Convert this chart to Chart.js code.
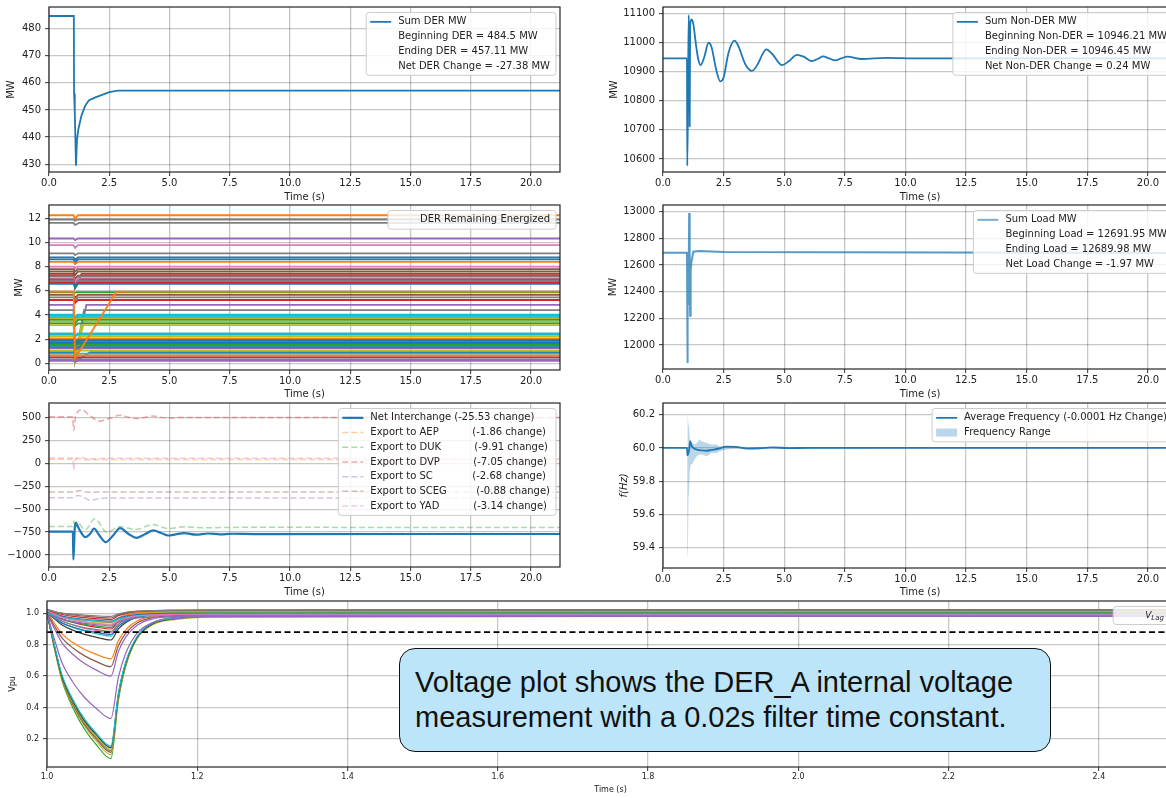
<!DOCTYPE html>
<html>
<head>
<meta charset="utf-8">
<script src="https://cdn.jsdelivr.net/npm/chart.js@4.4.1/dist/chart.umd.min.js"></script>
<style>
  html, body { margin: 0; padding: 0; background: #fff; overflow: hidden; width: 1166px; height: 798px; }
  canvas { position: absolute; }
  #note {
    position: absolute; left: 399px; top: 648px; width: 652px; height: 104px;
    box-sizing: border-box; background: #bde5f9; border: 1.5px solid #111; border-radius: 16px;
    display: flex; align-items: center; padding-left: 15px;
    font-family: 'Liberation Sans', Arial, sans-serif; font-size: 29px; line-height: 35px; color: #111;
  }
</style>
</head>
<body>
<canvas id="derChart"></canvas>
<canvas id="nonDerChart"></canvas>
<canvas id="energizedChart"></canvas>
<canvas id="loadChart"></canvas>
<canvas id="interchangeChart"></canvas>
<canvas id="freqChart"></canvas>
<canvas id="voltageChart"></canvas>
<div id="note"><div>Voltage plot shows the DER_A internal voltage<br>measurement with a 0.02s filter time constant.</div></div>
<script>
// ---- data ----
const T_END = 21.2;
const timeTicks = [0, 2.5, 5, 7.5, 10, 12.5, 15, 17.5, 20];

// sum DER MW
const derT = [0, 1.03, 1.04, 1.07, 1.12, 1.16, 1.22, 1.35, 1.5, 1.65, 1.9, 2.2, 2.5, 2.85, 21.2];
const derV = [484.5, 484.5, 456, 449, 429.5, 439, 443, 448, 451.5, 453.5, 454.5, 455.5, 456.5, 457.1, 457.11];
const derTicks = [430, 440, 450, 460, 470, 480];

// sum non-DER MW
const nonDerT = [0, 0.99, 1.0, 1.03, 1.06, 1.08, 1.1, 1.12, 1.17, 1.25, 1.35, 1.45, 1.55, 1.7, 1.88, 2.0, 2.2, 2.36, 2.5, 2.7,
                 2.95, 3.1, 3.4, 3.67, 3.9, 4.1, 4.26, 4.5, 4.9, 5.2, 5.52, 5.8, 6.14, 6.4, 6.6, 6.85, 7.1, 7.35, 7.6, 8.2, 9.2, 10.5, 21.2];
const nonDerV = [10946.21, 10946.21, 10576, 10800, 11095, 11000, 10712, 11060, 11080, 11065, 11000, 10945, 10923, 10950, 11000, 10985, 10905, 10867, 10880, 10965,
                 11007, 10990, 10925, 10903, 10925, 10960, 10977, 10962, 10923, 10937, 10958, 10952, 10937, 10945, 10953, 10946, 10939, 10946, 10952, 10944, 10948, 10946, 10946.45];
const nonDerTicks = [10600, 10700, 10800, 10900, 11000, 11100];

// DER remaining energized (one line per unit)
const T_FAULT = 1.02, T_TRIP = 1.08;
const derLevels  = [12.25, 11.9, 11.62, 10.33, 9.78, 9.1, 8.77, 8.6, 8.4, 8.0, 7.8, 7.6, 7.4, 7.25, 7.17, 7.0, 6.95, 6.85, 6.76, 6.65,
                    6.57, 5.88, 5.66, 5.46, 5.24, 4.83, 4.41, 4.02, 3.95, 3.82, 3.7, 3.6, 3.45, 3.3, 3.17, 2.48, 2.38, 2.26, 2.07, 1.95,
                    1.88, 1.75, 1.66, 1.55, 1.46, 1.35, 1.24, 1.05, 0.9, 0.8, 0.65, 0.5, 0.33, 0.2, 5.93];
const derDips    = [11.95, 11.8, 11.45, 10.2, 9.55, 8.95, 8.55, 8.3, 8.2, 7.85, 7.6, 7.3, 6.3, 7.0, 6.8, 6.8, 6.2, 6.6, 6.5, 6.4,
                    6.3, 5.85, 5.4, 5.2, 5.0, 0.3, 0.3, 3.8, 3.7, 3.6, 3.5, 3.3, 0.3, 3.1, 0.4, 2.3, 2.2, 0.4, 1.9, 1.8,
                    1.7, 1.6, 1.5, 1.4, 0.3, 1.2, 1.1, 0.9, 0.15, 0.65, 0.5, 0.35, 0.25, 0.15, 0.4];
const derRecover = [1.2, 1.2, 1.25, 1.2, 1.2, 1.2, 1.2, 1.2, 1.2, 1.2, 1.2, 1.2, 1.35, 1.2, 1.25, 1.2, 1.3, 1.2, 1.2, 1.2,
                    1.2, 1.15, 1.2, 1.2, 1.2, 1.55, 1.45, 1.2, 1.2, 1.2, 1.2, 1.2, 1.45, 1.2, 1.35, 1.2, 1.2, 1.3, 1.2, 1.2,
                    1.2, 1.2, 1.2, 1.2, 1.3, 1.2, 1.2, 1.2, 1.7, 1.2, 1.2, 1.2, 1.2, 1.2, 2.8];
const derColors  = ['orange', 'gray', 'gray', 'purple', 'pink', 'gray', 'blue', 'blue', 'orange', 'pink', 'brown', 'brown', 'red', 'brown', 'gray', 'pink', 'brown', 'gray', 'purple', 'red',
                    'blue', 'green', 'brown', 'gray', 'red', 'purple', 'gray', 'cyan', 'cyan', 'cyan', 'olive', 'green', 'olive', 'green', 'olive', 'cyan', 'cyan', 'olive', 'orange', 'green',
                    'blue', 'blue', 'blue', 'green', 'green', 'blue', 'purple', 'olive', 'blue', 'cyan', 'orange', 'red', 'gray', 'purple', 'orange'];
const energizedTicks = [0, 2, 4, 6, 8, 10, 12];

// sum load MW
const loadT = [0, 0.99, 1.0, 1.03, 1.05, 1.08, 1.1, 1.12, 1.14, 1.17, 1.25, 1.5, 2.5, 21.2];
const loadV = [12691.95, 12691.95, 11865, 12450, 12300, 12990, 12700, 12220, 12560, 12620, 12700, 12705, 12697, 12689.98];
const loadTicks = [12000, 12200, 12400, 12600, 12800, 13000];

// interchange
const netT = [0, 0.99, 1.01, 1.04, 1.07, 1.12, 1.2, 1.3, 1.5, 1.7, 1.87, 2.1, 2.35, 2.65, 2.95, 3.3, 3.64, 4.0, 4.33, 4.65,
              4.95, 5.25, 5.6, 6.1, 6.6, 7.1, 7.6, 8.5, 21.2];
const netV = [-745, -745, -1050, -900, -700, -650, -690, -740, -805, -770, -713, -790, -860, -790, -706, -770, -812, -770, -732, -760,
              -787, -775, -760, -778, -765, -774, -768, -771, -770.53];
const aepT = [0, 0.99, 1.04, 1.2, 1.5, 2.5, 21.2];
const aepV = [45, 45, 35, 55, 40, 44, 43];
const dukT = [0, 0.99, 1.03, 1.1, 1.15, 1.5, 1.9, 2.4, 2.95, 3.6, 4.3, 4.95, 5.6, 6.5, 8, 21.2];
const dukV = [-690, -690, -630, -700, -640, -725, -605, -750, -690, -722, -668, -712, -692, -702, -698, -700];
const dvpT = [0, 0.97, 1.03, 1.1, 1.36, 1.7, 2.1, 2.5, 2.95, 3.3, 3.64, 4.0, 4.3, 4.6, 4.95, 5.5, 21.2];
const dvpV = [510, 510, 362, 520, 585, 520, 462, 490, 525, 505, 490, 505, 518, 505, 496, 503, 503];
const scT = [0, 1.0, 1.2, 1.4, 1.7, 2.2, 3.0, 21.2];
const scV = [-375, -375, -350, -365, -400, -380, -378, -378];
const scegT = [0, 1.0, 1.3, 1.6, 2.2, 21.2];
const scegV = [-313, -313, -295, -315, -312, -314];
const yadT = [0, 0.99, 1.03, 1.08, 1.3, 1.6, 2.5, 21.2];
const yadV = [58, 58, -75, 40, 70, 50, 56, 55];
const interTicks = [-1000, -750, -500, -250, 0, 250, 500];

// frequency
const freqT = [0, 0.99, 1.01, 1.04, 1.08, 1.12, 1.16, 1.25, 1.4, 1.6, 1.8, 2.0, 2.3, 2.6, 3.0, 3.5, 4.0, 4.5, 5.2, 6.0, 21.2];
const freqAvg = [60.0, 60.0, 59.955, 59.965, 59.99, 60.04, 60.02, 60.0, 59.99, 59.985, 59.983, 59.988, 59.995, 60.008, 60.006, 59.996, 59.998, 60.003, 59.999, 60.0, 59.9999];
const rangeT = [0, 0.99, 1.0, 1.02, 1.03, 1.05, 1.08, 1.1, 1.14, 1.2, 1.3, 1.4, 1.5, 1.6, 1.8, 2.0, 2.2, 2.35, 2.6, 3.0, 21.2];
const rangeHi = [60.0, 60.0, 60.05, 60.22, 60.2, 60.14, 60.12, 60.06, 60.04, 60.03, 60.02, 60.03, 60.05, 60.04, 60.03, 60.02, 60.02, 60.01, 60.01, 60.005, 60.0];
const rangeLo = [60.0, 60.0, 59.5, 59.33, 59.4, 59.7, 59.75, 59.85, 59.9, 59.9, 59.93, 59.95, 59.96, 59.96, 59.95, 59.97, 59.97, 59.98, 59.99, 59.995, 60.0];
const freqTicks = [59.4, 59.6, 59.8, 60.0, 60.2];

// DER_A internal voltage
const vTimes = [1.0, 1.01, 1.02, 1.035, 1.05, 1.065, 1.085, 1.095, 1.105, 1.12, 1.14, 1.17, 1.22, 2.5];
const vCurves = [
  [1.01, 0.776, 0.571, 0.393, 0.262, 0.168, 0.075, 0.445, 0.667, 0.843, 0.935, 0.972, 0.99, 1.0],
  [1.005, 0.779, 0.580, 0.408, 0.281, 0.191, 0.1, 0.458, 0.673, 0.843, 0.932, 0.968, 0.985, 0.995],
  [1.0, 0.779, 0.584, 0.416, 0.292, 0.204, 0.115, 0.465, 0.675, 0.841, 0.929, 0.964, 0.981, 0.99],
  [1.01, 0.789, 0.594, 0.426, 0.302, 0.214, 0.125, 0.475, 0.685, 0.851, 0.939, 0.974, 0.99, 1.0],
  [1.0, 0.784, 0.593, 0.429, 0.308, 0.222, 0.135, 0.475, 0.679, 0.841, 0.926, 0.960, 0.976, 0.985],
  [1.0, 0.786, 0.598, 0.436, 0.316, 0.231, 0.145, 0.483, 0.686, 0.846, 0.931, 0.965, 0.982, 0.99],
  [1.01, 0.796, 0.608, 0.446, 0.326, 0.241, 0.155, 0.491, 0.693, 0.852, 0.936, 0.970, 0.987, 0.995],
  [1.0, 0.833, 0.685, 0.558, 0.464, 0.397, 0.33, 0.592, 0.749, 0.874, 0.939, 0.965, 0.978, 0.985],
  [1.0, 0.9, 0.812, 0.736, 0.68, 0.64, 0.6, 0.756, 0.85, 0.924, 0.963, 0.978, 0.986, 0.99],
  [1.005, 0.919, 0.843, 0.777, 0.729, 0.694, 0.66, 0.794, 0.874, 0.938, 0.972, 0.985, 0.992, 0.995],
  [1.01, 0.935, 0.869, 0.812, 0.77, 0.74, 0.71, 0.826, 0.896, 0.951, 0.980, 0.991, 0.997, 1.0],
  [1.01, 0.965, 0.925, 0.891, 0.866, 0.848, 0.83, 0.9, 0.942, 0.975, 0.993, 1.0, 1.003, 1.005],
  [1.015, 0.975, 0.94, 0.909, 0.887, 0.871, 0.855, 0.917, 0.954, 0.984, 0.999, 1.005, 1.008, 1.01],
  [1.0, 0.966, 0.937, 0.911, 0.892, 0.879, 0.865, 0.917, 0.948, 0.973, 0.986, 0.991, 0.993, 0.995],
  [1.02, 0.984, 0.952, 0.924, 0.904, 0.891, 0.875, 0.931, 0.965, 0.991, 1.005, 1.011, 1.013, 1.015],
  [1.005, 0.975, 0.949, 0.926, 0.909, 0.897, 0.885, 0.931, 0.959, 0.98, 0.992, 0.997, 0.999, 1.0],
  [1.02, 0.99, 0.964, 0.941, 0.924, 0.912, 0.9, 0.948, 0.977, 1.0, 1.012, 1.016, 1.019, 1.02],
  [1.01, 0.985, 0.963, 0.944, 0.93, 0.92, 0.91, 0.948, 0.971, 0.989, 0.998, 1.002, 1.004, 1.005],
  [1.0, 0.98, 0.962, 0.947, 0.936, 0.928, 0.92, 0.944, 0.958, 0.97, 0.976, 0.978, 0.979, 0.98],
  [1.015, 0.994, 0.975, 0.959, 0.947, 0.939, 0.93, 0.962, 0.981, 0.996, 1.004, 1.008, 1.009, 1.01],
  [1.02, 1.0, 0.982, 0.967, 0.956, 0.948, 0.94, 0.97, 0.988, 1.002, 1.01, 1.013, 1.014, 1.015],
  [1.01, 0.995, 0.982, 0.97, 0.962, 0.956, 0.95, 0.97, 0.982, 0.992, 0.997, 0.999, 1.0, 1.0],
  [1.02, 1.005, 0.992, 0.98, 0.972, 0.966, 0.96, 0.984, 0.998, 1.01, 1.016, 1.018, 1.019, 1.02],
  [1.025, 1.011, 0.999, 0.989, 0.981, 0.976, 0.97, 0.99, 1.002, 1.012, 1.017, 1.019, 1.02, 1.02],
  [1.0, 0.986, 0.974, 0.964, 0.956, 0.951, 0.945, 0.963, 0.974, 0.982, 0.987, 0.989, 0.99, 0.99],
  [1.015, 0.993, 0.973, 0.956, 0.943, 0.934, 0.925, 0.953, 0.97, 0.983, 0.99, 0.993, 0.994, 0.995],
  [1.02, 1.01, 1.001, 0.994, 0.988, 0.984, 0.98, 0.996, 1.006, 1.013, 1.017, 1.019, 1.02, 1.02]
];
const vColors = ['green', 'olive', 'brown', 'gray', 'olive', 'dark', 'cyan', 'purple', 'purple', 'brown', 'orange', 'dark', 'cyan', 'blue',
                 'pink', 'gray', 'red', 'green', 'purple', 'olive', 'orange', 'blue', 'red', 'brown', 'cyan', 'pink', 'gray'];
const vLagT = [1.0, 2.5];
const vLagV = [0.88, 0.88];
const vTimeTicks = [1.0, 1.2, 1.4, 1.6, 1.8, 2.0, 2.2, 2.4];
const vTicks = [0.2, 0.4, 0.6, 0.8, 1.0];

// ---- styling helpers ----
const TAB = {blue: '#1f77b4', orange: '#ff7f0e', green: '#2ca02c', red: '#d62728', purple: '#9467bd', brown: '#8c564b',
             pink: '#e377c2', gray: '#7f7f7f', olive: '#bcbd22', cyan: '#17becf', dark: '#3a3a3a'};
const GRID = 'rgba(0,0,0,0.22)';

Chart.defaults.font.family = "'DejaVu Sans', sans-serif";
Chart.defaults.font.size = 10;
Chart.defaults.color = '#222';

function pts(xs, ys) { return xs.map((x, i) => ({x: x, y: ys[i]})); }
function line(xs, ys, color, width, dash, smooth) {
  return {data: pts(xs, ys), borderColor: color, borderWidth: width || 1.5, borderDash: dash || [],
          pointRadius: 0, fill: false, tension: smooth ? 0.4 : 0,
          cubicInterpolationMode: smooth ? 'monotone' : 'default'};
}
function fade(hex, a) {
  const n = parseInt(hex.slice(1), 16);
  return 'rgba(' + (n >> 16) + ',' + ((n >> 8) & 255) + ',' + (n & 255) + ',' + a + ')';
}

// plot frame drawn on all four sides
const frame = {
  id: 'frame',
  afterDatasetsDraw(chart) {
    const a = chart.chartArea, c = chart.ctx;
    c.save();
    c.strokeStyle = '#262626';
    c.lineWidth = 1.2;
    c.strokeRect(a.left, a.top, a.right - a.left, a.bottom - a.top);
    c.restore();
  }
};

// matplotlib-like legend box in the upper right corner
const boxLegend = {
  id: 'boxLegend',
  afterDraw(chart, args, opts) {
    if (!opts || !opts.items) return;
    const ctx = chart.ctx, a = chart.chartArea;
    const rowH = opts.rowH || 14.7;
    const font = opts.font || "10px 'DejaVu Sans'";
    const subFont = opts.subFont || font;
    ctx.save();
    let tw = 0;
    opts.items.forEach(it => {
      ctx.font = font;
      let w = ctx.measureText(it.text).width;
      if (it.text2) w = it.x2 + ctx.measureText(it.text2).width;
      if (it.sub) { ctx.font = subFont; w += ctx.measureText(it.sub).width; }
      tw = Math.max(tw, w);
    });
    const w = 32 + tw + 6, h = opts.items.length * rowH + 4;
    const x = a.right - 4 - w, y = a.top + 5.5;
    ctx.fillStyle = 'rgba(255,255,255,0.82)';
    ctx.strokeStyle = '#cccccc';
    ctx.lineWidth = 1;
    ctx.beginPath();
    if (ctx.roundRect) ctx.roundRect(x, y, w, h, 3); else ctx.rect(x, y, w, h);
    ctx.fill();
    ctx.stroke();
    opts.items.forEach((it, i) => {
      const cy = y + 2 + rowH * (i + 0.5);
      if (it.kind === 'line') {
        ctx.strokeStyle = it.color;
        ctx.lineWidth = it.width || 1.5;
        ctx.setLineDash(it.dash || []);
        ctx.beginPath();
        ctx.moveTo(x + 4, cy);
        ctx.lineTo(x + 25, cy);
        ctx.stroke();
        ctx.setLineDash([]);
      } else if (it.kind === 'patch') {
        ctx.fillStyle = it.color;
        ctx.fillRect(x + 4, cy - 4, 21, 8);
      }
      ctx.fillStyle = '#222';
      ctx.textBaseline = 'middle';
      ctx.textAlign = 'left';
      ctx.font = font;
      ctx.fillText(it.text, x + 32, cy);
      if (it.text2) ctx.fillText(it.text2, x + 32 + it.x2, cy);
      if (it.sub) {
        const vw = ctx.measureText(it.text).width;
        ctx.font = subFont;
        ctx.fillText(it.sub, x + 32 + vw, cy + 2.5);
      }
    });
    ctx.restore();
  }
};

const fmt1 = v => v.toFixed(1);
const fmtInt = v => (v < 0 ? '\u2212' : '') + Math.abs(Math.round(v));
const fixTicks = list => scale => { scale.ticks = list.map(v => ({value: v})); };

function makeChart(id, g, datasets, sc, legend) {
  const fs = g.fs || 10, lh = fs * 1.2;
  const TP = 10, RP = 6;
  const left = Math.round(g.titleX != null ? g.titleX - lh / 2 : g.left);
  const yw = g.plotL - left;
  const xh = Math.round(g.titleY - g.plotB + lh / 2);
  const cv = document.getElementById(id);
  cv.width = Math.round(g.plotR - left + RP);
  cv.height = TP + (g.plotB - g.plotT) + xh;
  cv.style.left = left + 'px';
  cv.style.top = (g.plotT - TP) + 'px';
  // later series paint on top, like matplotlib
  datasets.forEach((d, i) => { d.order = -i; });
  const gridOpt = {color: GRID, lineWidth: 1.3, tickLength: 4, tickColor: '#333', tickWidth: 1};
  return new Chart(cv, {
    type: 'line',
    data: {datasets: datasets},
    plugins: [frame, boxLegend],
    options: {
      responsive: false,
      animation: false,
      events: [],
      parsing: false,
      layout: {padding: {top: TP, right: RP, left: 0, bottom: 0}},
      plugins: {legend: {display: false}, tooltip: {enabled: false}, boxLegend: legend},
      scales: {
        x: {
          type: 'linear', min: sc.xmin, max: sc.xmax,
          afterBuildTicks: fixTicks(sc.xticks),
          ticks: {autoSkip: false, maxRotation: 0, padding: 1, font: {size: fs}, color: '#222', callback: fmt1},
          grid: gridOpt,
          border: {display: false},
          title: {display: true, text: 'Time (s)', padding: 0, font: {size: fs}, color: '#222'},
          afterFit: s => { s.height = xh; }
        },
        y: {
          type: 'linear', min: sc.ymin, max: sc.ymax,
          afterBuildTicks: fixTicks(sc.yticks),
          ticks: {autoSkip: false, padding: 4, font: {size: fs}, color: '#222', callback: sc.yfmt},
          grid: gridOpt,
          border: {display: false},
          title: {display: !!sc.ytitle, text: sc.ytitle || '', padding: 0,
                  font: {size: fs, style: sc.yitalic ? 'italic' : 'normal'}, color: '#222'},
          afterFit: s => { s.width = yw; }
        }
      }
    }
  });
}

// ---- panel 1: sum DER ----
makeChart('derChart', {plotL: 49, plotT: 7, plotR: 560, plotB: 172, titleX: 11, titleY: 197},
  [line(derT, derV, TAB.blue, 1.8)],
  {xmin: 0, xmax: T_END, xticks: timeTicks, ymin: 427.2, ymax: 487.8, yticks: derTicks, yfmt: fmtInt, ytitle: 'MW'},
  {items: [
    {text: 'Sum DER MW', kind: 'line', color: TAB.blue, width: 1.8},
    {text: 'Beginning DER = 484.5 MW'},
    {text: 'Ending DER = 457.11 MW'},
    {text: 'Net DER Change = -27.38 MW'}
  ]});

// ---- panel 2: sum non-DER ----
makeChart('nonDerChart', {plotL: 663, plotT: 7, plotR: 1177, plotB: 172, titleX: 614, titleY: 197},
  [line(nonDerT, nonDerV, TAB.blue, 1.8, null, true)],
  {xmin: 0, xmax: T_END, xticks: timeTicks, ymin: 10555, ymax: 11123, yticks: nonDerTicks, yfmt: fmtInt, ytitle: 'MW'},
  {items: [
    {text: 'Sum Non-DER MW', kind: 'line', color: TAB.blue, width: 1.8},
    {text: 'Beginning Non-DER = 10946.21 MW'},
    {text: 'Ending Non-DER = 10946.45 MW'},
    {text: 'Net Non-DER Change = 0.24 MW'}
  ]});

// ---- panel 3: DER remaining energized ----
const energizedSets = derLevels.map((lv, i) => ({
  data: [{x: 0, y: lv}, {x: T_FAULT, y: lv}, {x: T_TRIP, y: derDips[i]}, {x: derRecover[i], y: lv}, {x: T_END, y: lv}],
  borderColor: TAB[derColors[i]], borderWidth: 1.8, pointRadius: 0, fill: false, tension: 0
}));
makeChart('energizedChart', {plotL: 49, plotT: 205, plotR: 560, plotB: 370, titleX: 18.5, titleY: 394},
  energizedSets,
  {xmin: 0, xmax: T_END, xticks: timeTicks, ymin: -0.55, ymax: 13.1, yticks: energizedTicks, yfmt: fmtInt, ytitle: 'MW'},
  {items: [{text: 'DER Remaining Energized'}]});

// ---- panel 4: sum load ----
makeChart('loadChart', {plotL: 663, plotT: 205, plotR: 1177, plotB: 369, titleX: 613, titleY: 394},
  [line(loadT, loadV, fade(TAB.blue, 0.75), 2)],
  {xmin: 0, xmax: T_END, xticks: timeTicks, ymin: 11820, ymax: 13050, yticks: loadTicks, yfmt: fmtInt, ytitle: 'MW'},
  {items: [
    {text: 'Sum Load MW', kind: 'line', color: fade(TAB.blue, 0.6), width: 2},
    {text: 'Beginning Load = 12691.95 MW'},
    {text: 'Ending Load = 12689.98 MW'},
    {text: 'Net Load Change = -1.97 MW'}
  ]});

// ---- panel 5: interchange ----
const DASH = [6, 3];
const EXP_ALPHA = 0.4;
makeChart('interchangeChart', {plotL: 49, plotT: 403, plotR: 560, plotB: 567, left: 5, titleY: 592},
  [
    line(aepT, aepV, fade(TAB.orange, EXP_ALPHA), 1.5, DASH, true),
    line(dukT, dukV, fade(TAB.green, EXP_ALPHA), 1.5, DASH, true),
    line(dvpT, dvpV, fade(TAB.red, EXP_ALPHA), 1.5, DASH, true),
    line(scT, scV, fade(TAB.purple, EXP_ALPHA), 1.5, DASH, true),
    line(scegT, scegV, fade(TAB.brown, EXP_ALPHA), 1.5, DASH, true),
    line(yadT, yadV, fade(TAB.pink, EXP_ALPHA), 1.5, DASH, true),
    line(netT, netV, TAB.blue, 2.2, null, true)
  ],
  {xmin: 0, xmax: T_END, xticks: timeTicks, ymin: -1131, ymax: 660, yticks: interTicks, yfmt: fmtInt},
  {items: [
    {text: 'Net Interchange (-25.53 change)', kind: 'line', color: TAB.blue, width: 2.2},
    {text: 'Export to AEP', text2: '(-1.86 change)', x2: 102, kind: 'line', color: fade(TAB.orange, EXP_ALPHA), dash: DASH},
    {text: 'Export to DUK', text2: '(-9.91 change)', x2: 104, kind: 'line', color: fade(TAB.green, EXP_ALPHA), dash: DASH},
    {text: 'Export to DVP', text2: '(-7.05 change)', x2: 103, kind: 'line', color: fade(TAB.red, EXP_ALPHA), dash: DASH},
    {text: 'Export to SC', text2: '(-2.68 change)', x2: 102, kind: 'line', color: fade(TAB.purple, EXP_ALPHA), dash: DASH},
    {text: 'Export to SCEG', text2: '(-0.88 change)', x2: 106, kind: 'line', color: fade(TAB.brown, EXP_ALPHA), dash: DASH},
    {text: 'Export to YAD', text2: '(-3.14 change)', x2: 103, kind: 'line', color: fade(TAB.pink, EXP_ALPHA), dash: DASH}
  ]});

// ---- panel 6: frequency ----
makeChart('freqChart', {plotL: 663, plotT: 403, plotR: 1177, plotB: 568, titleX: 624, titleY: 592},
  [
    {data: pts(rangeT, rangeHi), borderWidth: 0, borderColor: 'rgba(0,0,0,0)', pointRadius: 0,
     backgroundColor: fade(TAB.blue, 0.3), fill: '+1', tension: 0},
    {data: pts(rangeT, rangeLo), borderWidth: 0, borderColor: 'rgba(0,0,0,0)', pointRadius: 0, fill: false, tension: 0},
    line(freqT, freqAvg, TAB.blue, 1.8, null, true)
  ],
  {xmin: 0, xmax: T_END, xticks: timeTicks, ymin: 59.278, ymax: 60.27, yticks: freqTicks, yfmt: fmt1, ytitle: 'f(Hz)', yitalic: true},
  {items: [
    {text: 'Average Frequency (-0.0001 Hz Change)', kind: 'line', color: TAB.blue, width: 1.8},
    {text: 'Frequency Range', kind: 'patch', color: fade(TAB.blue, 0.3)}
  ]});

// ---- panel 7: DER_A voltage ----
const voltageSets = vCurves.map((vals, i) => line(vTimes, vals, TAB[vColors[i]], 1.2, null, true));
voltageSets.push(line(vLagT, vLagV, '#000', 1.6, [6, 3.5]));
makeChart('voltageChart', {plotL: 47, plotT: 601, plotR: 1174, plotB: 767, titleX: 13, titleY: 790, fs: 8},
  voltageSets,
  {xmin: 1.0, xmax: 2.5, xticks: vTimeTicks, ymin: 0.022, ymax: 1.078, yticks: vTicks, yfmt: fmt1, ytitle: 'Vpu'},
  {rowH: 14, font: "italic 9px 'DejaVu Sans'", subFont: "italic 7px 'DejaVu Sans'",
   items: [{text: 'V', sub: 'Lag'}]});
</script>
</body>
</html>
